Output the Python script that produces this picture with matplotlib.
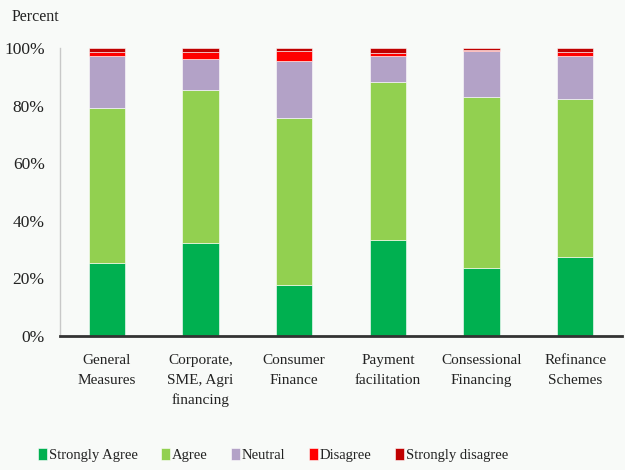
import numpy as np
import matplotlib.pyplot as plt

categories = ["General\nMeasures", "Corporate,\nSME, Agri\nfinancing", "Consumer\nFinance",
              "Payment\nfacilitation", "Consessional\nFinancing", "Refinance\nSchemes"]
strongly_agree = [25.3, 32.3, 17.7, 33.3, 23.6, 27.4]
agree = [53.9, 53.1, 58.0, 54.9, 59.4, 54.9]
neutral = [18.1, 10.8, 19.9, 9.1, 16.1, 15.0]
disagree = [1.2, 2.3, 3.5, 0.8, 0.1, 1.2]
strongly_disagree = [1.5, 1.5, 0.9, 1.9, 0.8, 1.5]

series = [("Strongly Agree", strongly_agree, "#00B050"),
          ("Agree", agree, "#92D050"),
          ("Neutral", neutral, "#B3A2C7"),
          ("Disagree", disagree, "#FF0000"),
          ("Strongly disagree", strongly_disagree, "#C00000")]

plt.rcParams['font.family'] = ['Liberation Serif', 'DejaVu Serif']
bg = "#F8FAF8"

fig = plt.figure(figsize=(6.25, 4.7), dpi=100, facecolor=bg)
ax = fig.add_axes([60 / 625, 1 - 336 / 470, 562 / 625, 288 / 470], facecolor=bg)

x = np.arange(len(categories))
bottom = np.zeros(len(categories))
for name, vals, col in series:
    ax.bar(x, vals, 0.385, bottom=bottom, color=col, label=name,
           edgecolor="white", linewidth=0.4)
    bottom += np.array(vals)

ax.set_xlim(-0.5, 5.5)
ax.set_ylim(0, 100)
ax.set_yticks(range(0, 101, 20))
ax.set_yticklabels([f"{v}%" for v in range(0, 101, 20)], fontsize=12.5)
ax.set_xticks(x)
ax.set_xticklabels(categories, fontsize=11, linespacing=1.65, va="top")
ax.tick_params(axis="y", length=0, pad=11, colors="#222222")
ax.tick_params(axis="x", length=0, pad=13, colors="#222222")

for s in ["top", "right"]:
    ax.spines[s].set_visible(False)
ax.spines["left"].set_color("#C8C8C8")
ax.spines["left"].set_linewidth(1)
ax.spines["bottom"].set_color("#333333")
ax.spines["bottom"].set_linewidth(2)

fig.text(12 / 625, 1 - 17 / 470, "Percent", fontsize=11.5, va="center", color="#222222")

leg = fig.legend(loc="center left", bbox_to_anchor=(38 / 625, 1 - 455 / 470), ncol=5,
                 frameon=False, fontsize=10.5, handlelength=0.6, handleheight=0.9,
                 handletextpad=0.15, columnspacing=1.6, borderaxespad=0, borderpad=0)
for t in leg.get_texts():
    t.set_color("#222222")

fig.savefig("out.png", dpi=100, facecolor=bg)
